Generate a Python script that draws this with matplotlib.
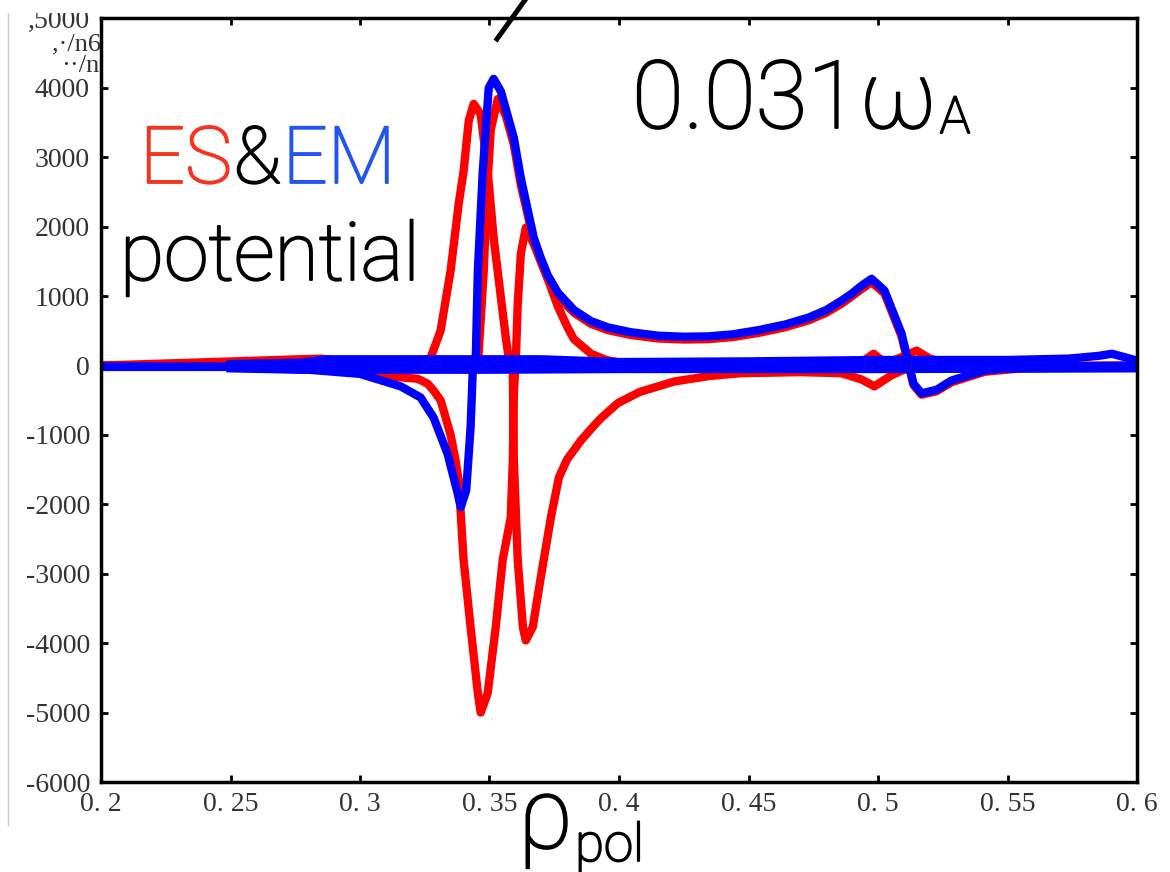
import numpy as np
import matplotlib
matplotlib.use("Agg")
import matplotlib.pyplot as plt
import matplotlib.patheffects as pe
from matplotlib.patches import Rectangle

W, H = 1170, 872

# ES (red) potential harmonics
es1_x = [0.20, 0.31, 0.3222, 0.3273, 0.3311, 0.3350, 0.3381, 0.3400, 0.3420, 0.3439, 0.3466,
         0.3493, 0.3516, 0.3544, 0.3563, 0.3574, 0.3590, 0.3594, 0.3609, 0.3629, 0.3640, 0.3667,
         0.3698, 0.3737, 0.3768, 0.3800, 0.3853, 0.3900, 0.3930, 0.3996, 0.4080, 0.4213, 0.4350,
         0.4472, 0.4700, 0.4859, 0.4936, 0.4986, 0.5052, 0.5100, 0.5150, 0.5200, 0.5300, 0.60]
es1_y = [0, 0, 20, 115, 500, 1370, 2330, 2800, 3530, 3770, 3620,
         2800, 1840, 980, 400, 115, -70, -1370, -2800, -3770, -3960, -3770,
         -3050, -2190, -1610, -1350, -1080, -880, -760, -540, -380, -230, -150,
         -110, -95, -110, -200, -300, -140, -60, -40, -30, -30, -20]

es2_x = [0.20, 0.2886, 0.3052, 0.3157, 0.3222, 0.3261, 0.3284, 0.3311, 0.3323, 0.3350, 0.3369,
         0.3381, 0.3400, 0.3427, 0.3455, 0.3466, 0.3493, 0.3524, 0.3551, 0.3582, 0.3590, 0.3594,
         0.3602, 0.3609, 0.3621, 0.3640, 0.3671, 0.3698, 0.3725, 0.3764, 0.3800, 0.3826, 0.3892,
         0.3950, 0.4008, 0.42, 0.60]
es2_y = [0, -20, -120, -170, -190, -260, -360, -500, -650, -1000, -1370,
         -1650, -2800, -3770, -4720, -5000, -4720, -3770, -2800, -2190, -1370, -400,
         115, 890, 1610, 1985, 1750, 1500, 1250, 850, 560, 380, 170,
         80, 40, 0, 0]

es3_x = [0.20, 0.33, 0.3435, 0.3455, 0.3478, 0.3489, 0.3505, 0.3532, 0.3563, 0.3594, 0.3621,
         0.3671, 0.3698, 0.3725, 0.3764, 0.3826, 0.3892, 0.3957, 0.4046, 0.4151, 0.4250, 0.4344,
         0.4440, 0.4538, 0.4640, 0.4731, 0.4800, 0.4859, 0.4900, 0.4936, 0.4975, 0.5025, 0.5091,
         0.5137, 0.5168, 0.5226, 0.5284, 0.5412, 0.5555, 0.60]
es3_y = [0, -30, -60, 0, 1370, 2420, 3400, 3840, 3600, 3180, 2600,
         1790, 1500, 1250, 1000, 760, 600, 510, 440, 390, 375, 380,
         410, 470, 550, 650, 760, 890, 1000, 1100, 1200, 1040, 420,
         -280, -420, -370, -240, -90, -40, -20]

es4_x = [0.20, 0.285, 0.30, 0.49, 0.4936, 0.4983, 0.5030, 0.5090, 0.5149, 0.5200, 0.5300, 0.60]
es4_y = [0, 100, 20, 0, 50, 170, 30, 120, 215, 100, 0, -30]

# EM (blue) potential harmonics
em1_x = [0.20, 0.25, 0.28, 0.30, 0.3157, 0.3234, 0.3284, 0.3338, 0.3377, 0.3389, 0.3410,
         0.3427, 0.3435, 0.3447, 0.3455, 0.3474, 0.3497, 0.3516, 0.3544, 0.3594, 0.3621, 0.3671,
         0.3698, 0.3725, 0.3764, 0.3826, 0.3892, 0.3957, 0.4046, 0.4151, 0.4250, 0.4344, 0.4440,
         0.4538, 0.4640, 0.4731, 0.4800, 0.4859, 0.4900, 0.4936, 0.4975, 0.5025, 0.5091, 0.5137,
         0.5168, 0.5226, 0.5284, 0.5412, 0.5555, 0.60]
em1_y = [-20, -20, -60, -120, -300, -460, -750, -1270, -1840, -2040, -1800,
         -890, -115, 115, 1370, 2800, 4000, 4130, 3950, 3280, 2700, 1840,
         1550, 1300, 1050, 800, 640, 550, 480, 430, 415, 420, 450,
         510, 590, 690, 800, 935, 1040, 1150, 1250, 1080, 460, -260,
         -400, -350, -215, -70, -20, 0]

em2_x = [0.25, 0.277, 0.287, 0.35, 0.37, 0.40, 0.45, 0.50, 0.55, 0.5737, 0.5853, 0.5903, 0.5992]
em2_y = [20, 40, 90, 90, 90, 50, 60, 80, 80, 100, 140, 170, 80]

em3_x = [0.25, 0.277, 0.30, 0.35, 0.40, 0.50, 0.60]
em3_y = [-40, -60, -60, -60, -50, -50, -40]

em4_x = [0.20, 0.60]
em4_y = [-15, -10]

x_ticks = [0.2, 0.25, 0.3, 0.35, 0.4, 0.45, 0.5, 0.55, 0.6]
x_labels = ["0. 2", "0. 25", "0. 3", "0. 35", "0. 4", "0. 45", "0. 5", "0. 55", "0. 6"]
y_ticks = list(range(-6000, 5001, 1000))
y_labels = [str(v) for v in y_ticks[:-1]] + [",5000"]


def fx(px):
    return px / W


def fy(py):
    return 1 - py / H


fig = plt.figure(figsize=(W / 100, H / 100), dpi=100)
ax = fig.add_axes([fx(101), fy(782), fx(1137) - fx(101), fy(18.5) - fy(782)])

for xs, ys in [(es1_x, es1_y), (es2_x, es2_y), (es3_x, es3_y), (es4_x, es4_y)]:
    ax.plot(xs, ys, color="red", lw=6)
for xs, ys in [(em4_x, em4_y), (em3_x, em3_y), (em2_x, em2_y), (em1_x, em1_y)]:
    ax.plot(xs, ys, color="blue", lw=6)

ax.set_xlim(0.2, 0.6)
ax.set_ylim(-6000, 5000)
ax.set_xticks(x_ticks)
ax.set_xticklabels(x_labels)
ax.set_yticks(y_ticks)
ax.set_yticklabels(y_labels)
ax.tick_params(direction="in", length=5, width=2, top=True, right=True,
               labelsize=20, labelcolor="#333333")
ax.tick_params(axis="x", pad=7)
ax.tick_params(axis="y", pad=8)
for lab in ax.get_xticklabels() + ax.get_yticklabels():
    lab.set_family("Liberation Serif")
for sp in ax.spines.values():
    sp.set_linewidth(2.5)

# leftovers of the original screenshot
fig.text(fx(101), fy(44), ",·/n6", ha="right", va="center", fontsize=19,
         family="Liberation Serif", color="#333333")
fig.text(fx(99), fy(66), "··/n", ha="right", va="center", fontsize=19,
         family="Liberation Serif", color="#333333")
fig.add_artist(Rectangle((0, fy(13)), fx(480), 1 - fy(13), transform=fig.transFigure,
                         facecolor="white", edgecolor="none", zorder=5))
fig.add_artist(plt.Line2D([fx(8), fx(8)], [fy(12), fy(825)], transform=fig.transFigure,
                          color="#cccccc", lw=1))
fig.add_artist(plt.Line2D([fx(497), fx(525)], [fy(39), fy(0)], transform=fig.transFigure,
                          color="black", lw=3.6, zorder=6))


# annotations: light font, thickened a little
def label(x, y, s, size, color="black"):
    t = fig.text(x, y, s, color=color, fontsize=size, va="baseline",
                 family="Roboto", fontweight="light")
    t.set_path_effects([pe.withStroke(linewidth=1.3, foreground=color)])
    return t


fig.canvas.draw()
r = fig.canvas.get_renderer()
t = label(fx(140), fy(183), "ES", 57, "#f5331f")
bb = t.get_window_extent(r)
t = label(bb.x1 / W + 0.001, fy(183), "&", 57)
bb = t.get_window_extent(r)
label(bb.x1 / W + 0.001, fy(183), "EM", 57, "#2255f0")
label(fx(120), fy(280), "potential", 58)

t = label(fx(632), fy(128), "0.031ω", 68)
bb = t.get_window_extent(r)
label(bb.x1 / W + 0.002, fy(133), "A", 37)

t = label(fx(518), fy(848), "ρ", 72)
bb = t.get_window_extent(r)
label(bb.x1 / W + 0.002, fy(861), "pol", 38)

fig.savefig("out.png", dpi=100)
